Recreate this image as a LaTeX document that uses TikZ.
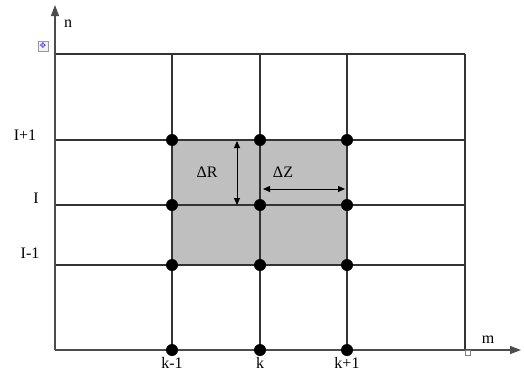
\documentclass[tikz,border=0pt]{standalone}
\usepackage{fontspec}
\setmainfont{Liberation Serif}
\newfontfamily\symfont{DejaVu Sans}
\usetikzlibrary{arrows.meta}
\begin{document}
\begin{tikzpicture}[x=1pt,y=-1pt,
  gridline/.style={draw=black!80,line width=1.1pt},
  axisline/.style={draw=black!70,line width=1.3pt,-{Triangle[length=11pt,width=8pt]}},
  dot/.style={circle,fill=black,inner sep=0pt,minimum size=12pt},
  lbl/.style={font=\fontsize{16}{18}\selectfont,inner sep=0pt},
  dimarrow/.style={draw=black,line width=1pt,{Triangle[length=7pt,width=6pt]}-{Triangle[length=7pt,width=6pt]}}]
\useasboundingbox (0,0) rectangle (524,372);
% coordinates
\foreach \nm/\x in {a/55,km/172,k/260,kp/347,r/465}{
  \foreach \hn/\y in {top/54,ip/140,i/205,im/265,bot/350}{
    \coordinate (\nm-\hn) at (\x,\y);
  }
}
% shaded cell
\fill[black!25] (km-ip) rectangle (kp-im);
% grid
\foreach \hn in {top,ip,i,im}{\draw[gridline] (a-\hn) -- (r-\hn);}
\foreach \nm in {km,k,kp,r}{\draw[gridline] (\nm-top) -- (\nm-bot);}
% axes
\coordinate (ytip) at (55,5);
\coordinate (xtip) at (521,350);
\draw[axisline] (a-bot) -- (ytip);
\draw[axisline] (a-bot) -- (xtip);
% dots
\foreach \nm in {km,k,kp}{
  \foreach \hn in {ip,i,im,bot}{\node[dot] (d-\nm-\hn) at (\nm-\hn) {};}
}
% dimension arrows
\coordinate (dr1) at (237,141);
\coordinate (dr2) at (237,205);
\draw[dimarrow] (dr1) -- (dr2);
\coordinate (dz1) at (263,189);
\coordinate (dz2) at (345,189);
\draw[dimarrow] (dz1) -- (dz2);
\node[lbl] (lR) at (207,172) {ΔR};
\node[lbl] (lZ) at (283,172) {ΔZ};
% labels
\node[lbl] (ln) at (68,24) {n};
\node[lbl] (lm) at (488,340) {m};
\node[lbl] (lkm) at (172,363) {k-1};
\node[lbl] (lk) at (260,363) {k};
\node[lbl] (lkp) at (347,363) {k+1};
\node[lbl] (lip) at (25,135) {I+1};
\node[lbl] (li) at (36,198) {I};
\node[lbl] (lim) at (30,253) {I-1};
% editor artifacts
\node[draw=black!40,fill=black!5,minimum size=10pt,inner sep=0pt,font=\symfont\fontsize{8}{8}\selectfont,text=blue!70] (mv) at (43,46) {✥};
\node[draw=black!50,minimum size=5pt,inner sep=0pt] (sq) at (468,353) {};
\end{tikzpicture}
\end{document}
